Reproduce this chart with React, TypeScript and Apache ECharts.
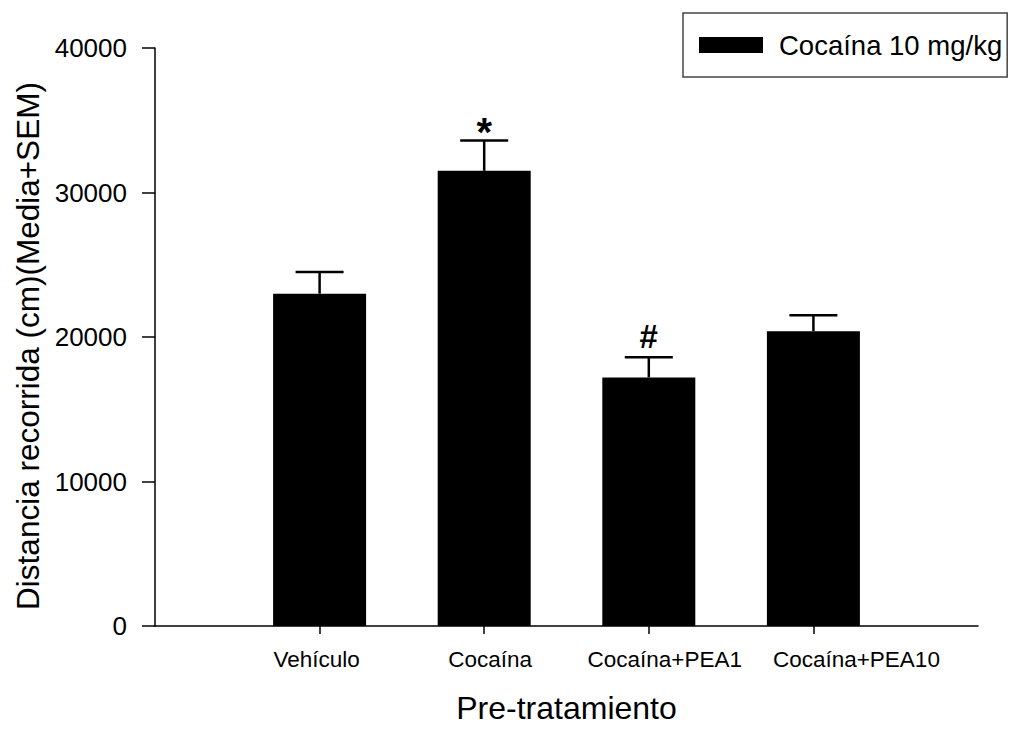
import React, { useEffect, useRef } from "react";
import * as echarts from "echarts";

const categories = ["Vehículo", "Cocaína", "Cocaína+PEA1", "Cocaína+PEA10"];
const means = [23000, 31500, 17200, 20400];
const sems = [1500, 2100, 1400, 1100];
const marks = ["", "*", "#", ""];
const seriesName = "Cocaína 10 mg/kg";
const yMin = 0;
const yMax = 40000;
const yInterval = 10000;

// horizontal shift (px) of each category label relative to its tick, as in the original figure
const labelShift = [-3, 6, 16, 43];

const FONT = '"Liberation Sans", Arial, sans-serif';

export default function App() {
  const ref = useRef<HTMLDivElement>(null);
  useEffect(() => {
    if (!ref.current) return;
    const chart = echarts.init(ref.current, undefined, { renderer: "svg" });
    const xData = ["", ...categories, ""];
    const barData: (number | string)[] = ["-", ...means, "-"];
    const errData = means.map((m, i) => [i + 1, m + sems[i], m]);
    const rich: any = {};
    labelShift.forEach((d, i) => {
      rich["l" + i] = {
        fontFamily: FONT,
        fontSize: 22.5,
        color: "#000",
        padding: d >= 0 ? [0, 0, 0, 2 * d] : [0, -2 * d, 0, 0],
      };
    });
    chart.setOption({
      animation: false,
      backgroundColor: "#fff",
      grid: { left: 155, right: 33, top: 48, bottom: 95, containLabel: false },
      legend: {
        data: [{ name: seriesName, icon: "rect" }],
        left: 683,
        top: 13,
        orient: "horizontal",
        itemWidth: 64,
        itemHeight: 16,
        padding: [18, 5, 18, 16],
        borderColor: "#444",
        borderWidth: 1.5,
        selectedMode: false,
        textStyle: {
          fontFamily: FONT,
          fontSize: 27.5,
          color: "#000",
          lineHeight: 28,
          padding: [0, 0, 0, 11],
        },
      },
      xAxis: {
        type: "category",
        data: xData,
        boundaryGap: false,
        name: "Pre-tratamiento",
        nameLocation: "middle",
        nameGap: 66,
        nameTextStyle: { fontFamily: FONT, fontSize: 32, color: "#000" },
        axisLine: { lineStyle: { color: "#000", width: 1.5 } },
        axisTick: {
          show: true,
          length: 8,
          lineStyle: { color: "#000", width: 1.5 },
          interval: (index: number, value: string) => value !== "",
        },
        axisLabel: {
          interval: 0,
          margin: 22,
          fontFamily: FONT,
          fontSize: 22.5,
          color: "#000",
          rich,
          formatter: (value: string, index: number) => {
            const i = categories.indexOf(value);
            if (i < 0) return "";
            return "{l" + i + "|" + value + "}";
          },
        },
        splitLine: { show: false },
      },
      yAxis: {
        type: "value",
        min: yMin,
        max: yMax,
        interval: yInterval,
        name: "Distancia recorrida (cm)(Media+SEM)",
        nameLocation: "middle",
        nameGap: 110,
        nameTextStyle: {
          fontFamily: FONT,
          fontSize: 31.5,
          color: "#000",
          padding: [0, 18, 0, 0],
        },
        axisLine: { show: true, lineStyle: { color: "#000", width: 1.5 } },
        axisTick: { show: true, length: 13, lineStyle: { color: "#000", width: 1.5 } },
        axisLabel: {
          margin: 28,
          fontFamily: FONT,
          fontSize: 26,
          color: "#000",
          formatter: (v: number) => String(v),
        },
        splitLine: { show: false },
      },
      series: [
        {
          name: seriesName,
          type: "bar",
          data: barData,
          barWidth: 93,
          itemStyle: { color: "#000" },
        },
        {
          name: "err",
          type: "custom",
          data: errData,
          z: 5,
          renderItem: (params: any, api: any) => {
            const x = api.value(0);
            const top = api.value(1);
            const base = api.value(2);
            const pT = api.coord([x, top]);
            const pB = api.coord([x, base]);
            const half = 24;
            const mark = marks[params.dataIndex];
            const children: any[] = [
              {
                type: "line",
                shape: { x1: pT[0], y1: pT[1], x2: pB[0], y2: pB[1] },
                style: { stroke: "#000", lineWidth: 2.5 },
              },
              {
                type: "line",
                shape: { x1: pT[0] - half, y1: pT[1], x2: pT[0] + half, y2: pT[1] },
                style: { stroke: "#000", lineWidth: 2.5 },
              },
            ];
            if (mark) {
              children.push({
                type: "text",
                style: {
                  text: mark,
                  x: pT[0],
                  y: mark === "*" ? pT[1] + 12 : pT[1] - 4,
                  align: "center",
                  verticalAlign: "bottom",
                  fontFamily: FONT,
                  fontWeight: "bold",
                  fontSize: mark === "*" ? 40 : 33,
                  fill: "#000",
                },
              });
            }
            return { type: "group", children };
          },
        },
      ],
    });
    return () => chart.dispose();
  }, []);
  return (
    <div
      ref={ref}
      style={{ position: "fixed", left: 0, top: 0, width: 1011, height: 729, background: "#fff" }}
    />
  );
}
